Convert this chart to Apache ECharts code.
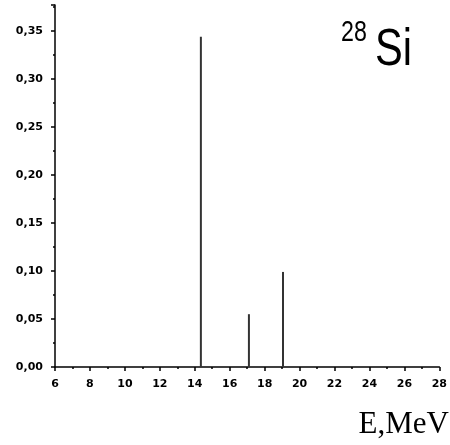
<!DOCTYPE html>
<html>
<head>
<meta charset="utf-8">
<script src="https://cdn.jsdelivr.net/npm/echarts@6/dist/echarts.min.js"></script>
<style>
  html, body { margin: 0; padding: 0; background: #fff; }
  #chart { width: 450px; height: 445px; }
</style>
</head>
<body>
<div id="chart"></div>
<script>
// Gamma line energies (MeV) and relative intensities for 28Si
const energies = [14.35, 17.1, 19.05];
const intensities = [0.344, 0.055, 0.099];
const xTicks = [6, 8, 10, 12, 14, 16, 18, 20, 22, 24, 26, 28];
const yTicks = [0.00, 0.05, 0.10, 0.15, 0.20, 0.25, 0.30, 0.35];

const lines = energies.map((e, i) => [e, intensities[i]]);
const isTick = (v, list) => list.some(t => Math.abs(t - v) < 1e-6);

const chart = echarts.init(document.getElementById('chart'), null, { renderer: 'canvas' });
chart.setOption({
  backgroundColor: '#fff',
  animation: false,
  grid: { left: 55, right: 8, top: 5, bottom: 78, containLabel: false },
  xAxis: {
    type: 'value', min: 6, max: 28, interval: 2,
    axisLine: { show: true, onZero: false, lineStyle: { color: '#000', width: 1.5 } },
    axisTick: { show: true, inside: false, length: 4, lineStyle: { color: '#000', width: 1.5 } },
    minorTick: { show: true, splitNumber: 2, length: 2, lineStyle: { color: '#000', width: 1.5 } },
    splitLine: { show: false },
    axisLabel: {
      color: '#000', fontFamily: 'DejaVu Sans', fontSize: 11, fontWeight: 'bold', margin: 12,
      formatter: v => isTick(v, xTicks) ? String(v) : ''
    }
  },
  yAxis: {
    type: 'value', min: 0, max: 0.377, interval: 0.05,
    axisLine: { show: true, lineStyle: { color: '#000', width: 1.5 } },
    axisTick: { show: true, inside: false, length: 4, lineStyle: { color: '#000', width: 1.5 } },
    minorTick: { show: true, splitNumber: 2, length: 2, lineStyle: { color: '#000', width: 1.5 } },
    splitLine: { show: false },
    axisLabel: {
      color: '#000', fontFamily: 'DejaVu Sans', fontSize: 11, fontWeight: 'bold', margin: 12,
      showMaxLabel: false,
      formatter: v => isTick(v, yTicks) ? v.toFixed(2).replace('.', ',') : ''
    }
  },
  series: [{
    type: 'bar',
    data: lines,
    barWidth: 2,
    itemStyle: { color: '#333' }
  }],
  graphic: [
    { type: 'text', x: 341, y: 18, scaleX: 0.8,
      style: { text: '28', font: '29px "Liberation Sans", Arial, sans-serif', fill: '#000' } },
    { type: 'text', x: 375, y: 25, scaleX: 0.8,
      style: { text: 'Si', font: '52px "Liberation Sans", Arial, sans-serif', fill: '#000' } },
    { type: 'text', x: 449, y: 409,
      style: { text: 'E,MeV', align: 'right', font: '31px "Liberation Serif", "Times New Roman", serif', fill: '#000' } }
  ]
});
</script>
</body>
</html>
